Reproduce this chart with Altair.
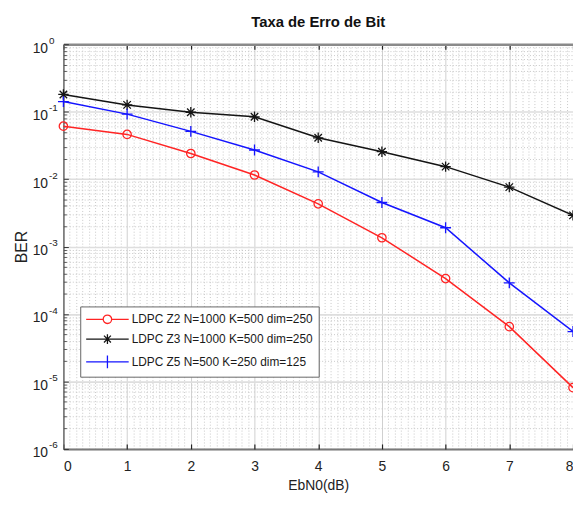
import altair as alt
import pandas as pd

# ---- data ----
ebn0 = [0, 1, 2, 3, 4, 5, 6, 7, 8]
ber_z2 = [0.061, 0.046, 0.024, 0.0115, 0.0043, 0.00135, 0.000335, 0.000065, 0.0000081]
ber_z3 = [0.18, 0.126, 0.098, 0.084, 0.041, 0.0255, 0.0153, 0.0076, 0.0029]
ber_z5 = [0.141, 0.092, 0.051, 0.027, 0.0128, 0.0045, 0.0019, 0.00029, 0.000055]
series_names = ["LDPC Z2 N=1000 K=500 dim=250",
                "LDPC Z3 N=1000 K=500 dim=250",
                "LDPC Z5 N=500 K=250 dim=125"]
series_colors = ["#ff2424", "#141414", "#1414ff"]

x_major = [0, 1, 2, 3, 4, 5, 6, 7, 8]
x_minor = [round(i * 0.1, 1) for i in range(81) if i % 10]
y_major = [1e-6, 1e-5, 1e-4, 1e-3, 1e-2, 1e-1, 1.0]
y_minor = [m * 10.0 ** k for k in range(-6, 0) for m in range(2, 10)]

rows = []
for name, vals in zip(series_names, [ber_z2, ber_z3, ber_z5]):
    for xv, yv in zip(ebn0, vals):
        rows.append({"ebn0": xv, "ber": yv, "series": name})
df = pd.DataFrame(rows)

W, H = 515, 409
FONT = "Liberation Sans"

# marker paths (unit square coords)
ASTER = "M-1,0H1M0,-1V1M-0.72,-0.72L0.72,0.72M-0.72,0.72L0.72,-0.72"
PLUS = "M-1,0H1M0,-1V1"
# legend glyphs: line sample with marker in the middle (1 unit = 7 px)
LEG_CIRCLE = "M-1,0H1.46M2.68,0H5.14M1.46,0A0.61,0.61 0 1,0 2.68,0A0.61,0.61 0 1,0 1.46,0"
LEG_ASTER = "M-1,0H5.14M2.07,-0.71V0.71M1.57,-0.5L2.57,0.5M1.57,0.5L2.57,-0.5"
LEG_PLUS = "M-1,0H5.14M2.07,-0.93V0.93"

xs = alt.Scale(domain=[0, 8], nice=False, zero=False)
ys = alt.Scale(type="log", domain=[1e-6, 1], nice=False)
cs = alt.Scale(domain=series_names, range=series_colors)

exp_expr = "['-6','-5','-4','-3','-2','-1','0'][round(log(datum.value)/LN10) + 6]"

base = alt.Chart(df)

# main axes (invisible carrier layer)
main_axes = base.mark_point(opacity=0).encode(
    x=alt.X("ebn0:Q", scale=xs, title="EbN0(dB)",
            axis=alt.Axis(orient="bottom", values=x_major, format="d", grid=True,
                          gridColor="#cfcfcf", gridWidth=1, ticks=False,
                          domainColor="#7a7a7a", domainWidth=2,
                          labelFontSize=14, labelPadding=11, labelColor="#222",
                          titleFontSize=14, titleFontWeight="normal", titleColor="#222",
                          titlePadding=5)),
    y=alt.Y("ber:Q", scale=ys, title="BER",
            axis=alt.Axis(orient="left", values=y_major, labelExpr="'10'",
                          grid=True, gridColor="#dedede", gridWidth=1.6, ticks=False,
                          domainColor="#6a6a6a", domainWidth=1.5,
                          labelFontSize=14, labelPadding=16, labelOffset=4,
                          labelColor="#222",
                          titleFontSize=16, titleFontWeight="normal", titleColor="#222",
                          titlePadding=3)),
)

# exponent labels of the y axis
exps = base.mark_point(opacity=0).encode(
    x=alt.X("ebn0:Q", scale=xs, axis=None),
    y=alt.Y("ber:Q", scale=ys, title=None,
            axis=alt.Axis(orient="left", values=y_major, labelExpr=exp_expr,
                          grid=False, ticks=False, domain=False,
                          labelAlign="left", labelFontSize=10, labelPadding=15,
                          labelOffset=-4, labelColor="#222")),
)

# minor dotted grid
minor = base.mark_point(opacity=0).encode(
    x=alt.X("ebn0:Q", scale=xs, title=None,
            axis=alt.Axis(orient="bottom", values=x_minor, grid=True, gridColor="#c8c8c8",
                          gridDash=[1, 2], gridWidth=1, labels=False, ticks=False,
                          domain=False)),
    y=alt.Y("ber:Q", scale=ys, title=None,
            axis=alt.Axis(orient="left", values=y_minor, grid=True, gridColor="#c8c8c8",
                          gridDash=[1, 2], gridWidth=1, labels=False, ticks=False,
                          domain=False)),
)

# inward major ticks (bottom edge and left edge)
ticks1 = base.mark_point(opacity=0).encode(
    x=alt.X("ebn0:Q", scale=xs, title=None,
            axis=alt.Axis(orient="top", offset=-H, values=x_major, grid=False,
                          labels=False, ticks=True, tickSize=5, tickColor="#222",
                          tickWidth=1.2, domain=False)),
    y=alt.Y("ber:Q", scale=ys, title=None,
            axis=alt.Axis(orient="right", offset=-W, values=y_major, grid=False,
                          labels=False, ticks=True, tickSize=5, tickColor="#333",
                          tickWidth=1, domain=False)),
)

# inward ticks at top edge + top frame, minor ticks on left
ticks2 = base.mark_point(opacity=0).encode(
    x=alt.X("ebn0:Q", scale=xs, title=None,
            axis=alt.Axis(orient="bottom", offset=-H, values=x_major, grid=False,
                          labels=False, ticks=True, tickSize=5, tickColor="#222",
                          tickWidth=1.2, domain=True, domainColor="#8a8a8a",
                          domainWidth=2.5)),
    y=alt.Y("ber:Q", scale=ys, title=None,
            axis=alt.Axis(orient="right", offset=-W, values=y_minor, grid=False,
                          labels=False, ticks=True, tickSize=3, tickColor="#555",
                          tickWidth=1, domain=False)),
)

noax_x = alt.X("ebn0:Q", scale=xs, axis=None)
noax_y = alt.Y("ber:Q", scale=ys, axis=None)

marker_specs = [("circle", 72), (ASTER, 110), (PLUS, 121)]
series_layers = []
for name, col, (shp, sz) in zip(series_names, series_colors, marker_specs):
    series_layers.append(
        base.transform_filter(alt.datum.series == name).mark_line(
            color=col, strokeWidth=1.5,
            point=alt.OverlayMarkDef(shape=shp, size=sz, filled=False,
                                     strokeWidth=1.3, color=col, fill=None)
        ).encode(x=noax_x, y=noax_y)
    )

leg_props = dict(orient="none", legendX=17, legendY=265, title=None,
                 fillColor="white", strokeColor="#666666", padding=5,
                 labelFont=FONT, labelFontSize=12, labelColor="#1a1a1a",
                 labelLimit=400, labelOffset=31, rowPadding=5, symbolSize=196,
                 symbolStrokeWidth=1.3, symbolOpacity=1)

legend_layer = base.mark_point(opacity=0.001, filled=False, strokeWidth=1.3).encode(
    x=noax_x, y=noax_y,
    color=alt.Color("series:N", scale=cs, legend=alt.Legend(**leg_props)),
    shape=alt.Shape("series:N",
                    scale=alt.Scale(domain=series_names,
                                    range=[LEG_CIRCLE, LEG_ASTER, LEG_PLUS]),
                    legend=alt.Legend(**leg_props)),
)

chart = alt.layer(
    minor, main_axes, exps, ticks1, ticks2, *series_layers, legend_layer
).resolve_axis(x="independent", y="independent").properties(
    width=W, height=H,
    title=alt.TitleParams("Taxa de Erro de Bit", font=FONT, fontSize=15,
                          fontWeight="bold", color="#111", anchor="middle", offset=5),
    autosize=alt.AutoSizeParams(type="none"),
    padding={"left": 56, "top": 34, "right": 0, "bottom": 46},
).configure(
    font=FONT,
).configure_axis(
    labelFont=FONT, titleFont=FONT,
).configure_view(
    stroke=None,
)

chart.save("out.html", embed_options={"renderer": "svg", "actions": False})
